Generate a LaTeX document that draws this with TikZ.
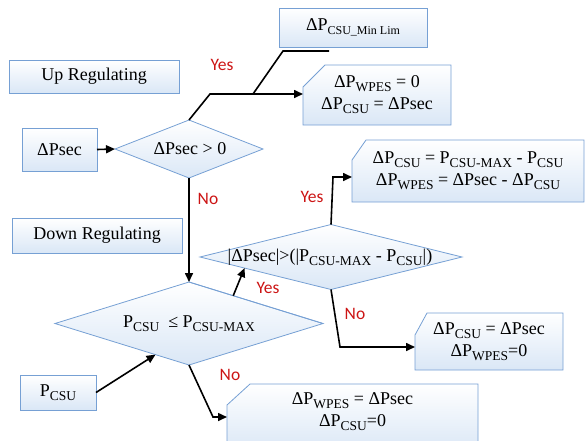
\documentclass[tikz,border=0pt]{standalone}
\usepackage{fontspec}
\setmainfont{Liberation Serif}
\newfontfamily\ynfont{Carlito}
\usetikzlibrary{arrows.meta,calc,backgrounds,shapes.geometric}
\definecolor{bdr}{RGB}{118,160,212}
\definecolor{shadeb}{RGB}{218,231,246}
\definecolor{ynred}{RGB}{204,20,20}
% lowered subscripts
\newcommand\sbs[1]{\raisebox{-0.22em}{\fontsize{13.5}{14}\selectfont #1}}
\newcommand\sbt[1]{\raisebox{-0.22em}{\fontsize{12}{12}\selectfont #1}}

\begin{document}
\begin{tikzpicture}[x=1pt,y=-1pt,
  font=\fontsize{18}{22}\selectfont,
  box/.style={draw=bdr, line width=0.8pt, top color=white, bottom color=shadeb},
  rbox/.style={box, inner sep=0pt, outer sep=0pt},
  chtext/.style={inner sep=0pt, outer sep=0pt, align=center},
  dia/.style={box, diamond, inner sep=0pt, outer sep=0pt},
  yn/.style={text=ynred, font=\ynfont\fontsize{17.5}{17.5}\selectfont},
  conn/.style={line width=1.6pt, -{Triangle[length=9pt,width=8pt]}},
  plain/.style={line width=1.6pt}]
\clip (0,0) rectangle (585,440);

% plain boxes
\node[rbox, minimum width=170pt, minimum height=33pt] (up) at (94,76.5) {Up Regulating};
\node[rbox, minimum width=75pt, minimum height=43pt] (ps) at (59.5,149.5) {ΔPsec};
\node[rbox, minimum width=170pt, minimum height=35pt] (down) at (97,235.5) {Down Regulating};
\node[rbox, minimum width=76pt, minimum height=35pt] (pc) at (58,392.5) {P\sbs{CSU}};
\node[rbox, minimum width=148pt, minimum height=39pt] (ml) at (353,27.5) {ΔP\sbt{CSU\_Min Lim}};

% decisions
\node[dia, minimum width=268pt, minimum height=83pt] (dP) at (189,323.5) {};
\node[dia, minimum width=262pt, minimum height=65pt] (d2) at (331,257) {};
\draw[bdr, line width=0.8pt] (dP.north) -- (dP.east);
\node[dia, minimum width=148pt, minimum height=58pt] (d1) at (189,149) {};
\node (d1t) at (190,149) {ΔPsec > 0};
\node (dPt) at (189,324) {P\sbs{CSU}\ \ ≤ P\sbs{CSU-MAX}};
\node (d2t) at (330,257) {\textbar ΔPsec\textbar>(\textbar P\sbs{CSU-MAX} - P\sbs{CSU}\textbar)};

% result boxes with a cut corner
\node[chtext, minimum width=148pt, minimum height=60pt] (r2) at (377,95)
  {ΔP\sbs{WPES} = 0\\ ΔP\sbs{CSU} = ΔPsec};
\node[chtext, minimum width=232pt, minimum height=62pt] (r3) at (468,171)
  {ΔP\sbs{CSU} = P\sbs{CSU-MAX} - P\sbs{CSU}\\ ΔP\sbs{WPES} = ΔPsec - ΔP\sbs{CSU}};
\node[chtext, minimum width=148pt, minimum height=57pt] (r4) at (489,341.5)
  {ΔP\sbs{CSU} = ΔPsec\\ ΔP\sbs{WPES}=0};
\node[chtext, minimum width=251pt, minimum height=56pt] (r5) at (352.5,412)
  {ΔP\sbs{WPES} = ΔPsec\\ ΔP\sbs{CSU}=0};

\begin{scope}[on background layer]
  \path[box] ($(r2.north west)+(22,0)$) -- (r2.north east) -- (r2.south east) -- (r2.south west) -- ($(r2.north west)+(0,22)$) -- cycle;
  \path[box] ($(r3.north west)+(14,0)$) -- (r3.north east) -- (r3.south east) -- (r3.south west) -- ($(r3.north west)+(0,20)$) -- cycle;
  \path[box] ($(r4.north west)+(12,0)$) -- (r4.north east) -- (r4.south east) -- (r4.south west) -- ($(r4.north west)+(0,22)$) -- cycle;
  \path[box] ($(r5.north west)+(23,0)$) -- (r5.north east) -- ($(r5.south east)+(0,12)$) -- ($(r5.south west)+(0,12)$) -- ($(r5.north west)+(0,21)$) -- cycle;
\end{scope}

% bend points
\coordinate (k1) at (210,94);
\coordinate (k2) at (253,94);
\coordinate (k3) at (283,51);
\coordinate (k4) at (329,51);
\coordinate (k5) at (333,177);
\coordinate (k6) at (340,347);
\coordinate (k7) at (213,417);

% connectors
\draw[conn] (ps.east) -- (d1.west);
\draw[conn] (d1.north) -- (k1) -- (k1 -| r2.west);
\draw[plain] (k2) -- (k3) -- (k4);
\draw[conn] (d1.south) -- (dP.north);
\draw[conn] (pc.east) -- ($(dP.west)!0.75!(dP.south)$);
\draw[conn] ($(dP.north)!0.33!(dP.east)$) -- ($(d2.west)!0.34!(d2.south)$);
\draw[conn] (d2.north) -- (k5) -- (k5 -| r3.west);
\draw[conn] (d2.south) -- (k6) -- (k6 -| r4.west);
\draw[conn] (dP.south) -- (k7) -- (k7 -| r5.west);

% branch labels
\node[yn] (y1) at (222,65) {Yes};
\node[yn] (n1) at (208,199) {No};
\node[yn] (y2) at (312,197) {Yes};
\node[yn] (y3) at (268,288) {Yes};
\node[yn] (n2) at (355,314) {No};
\node[yn] (n3) at (230,375) {No};
\end{tikzpicture}
\end{document}
